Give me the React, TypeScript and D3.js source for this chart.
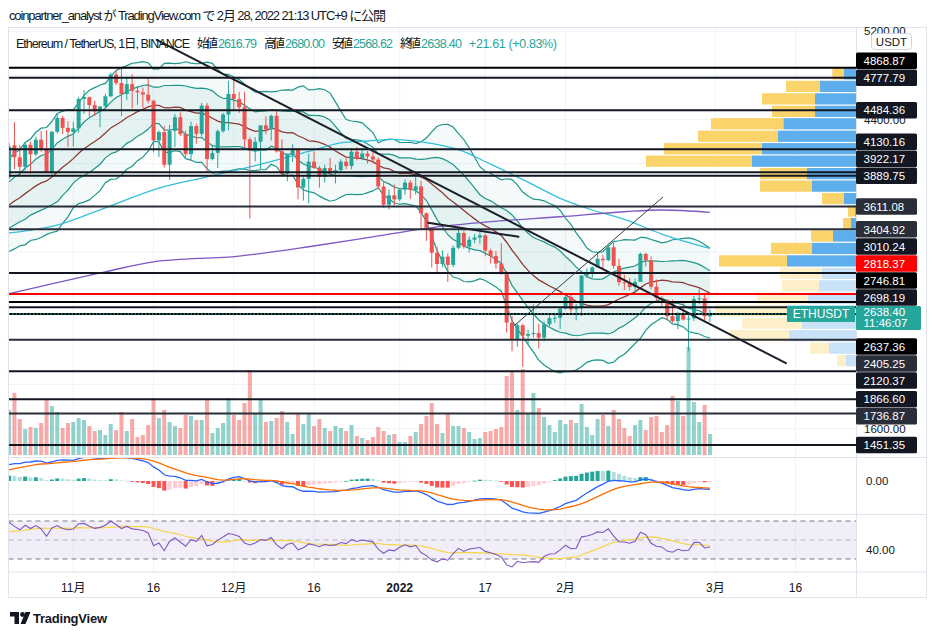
import React from "react";
import * as d3 from "d3";

const W = 936;
const H = 635;
const FONT = "'Liberation Sans', Arial, 'Noto Sans CJK JP', sans-serif";

// ---------- data ----------
const firstCandleDate = "2021-10-20";
// closes before the visible window (Sep 1 - Oct 19, estimated), only used to seed the indicators
const priorCloses = [
  3834, 3787, 3939, 3886, 3952, 3927, 3431, 3497, 3426, 3207, 3265, 3409, 3285, 3427, 3613, 3571, 3397, 3433,
  3330, 2977, 2746, 3078, 3155, 2930, 2925, 3063, 2933, 2806, 2850, 3001,
  3308, 3391, 3418, 3380, 3518, 3580, 3587, 3561, 3575, 3414, 3545, 3493, 3606, 3788, 3866, 3829, 3847, 3747, 3877,
];
const opens = [
  3877, 4167, 4057, 3971, 4171, 4085, 4217, 4131, 3923, 4288, 4414, 4324,
  4288, 4319, 4586, 4603, 4530, 4474, 4518, 4610, 4807, 4730, 4630, 4720, 4660, 4646, 4625, 4570, 4210, 4286, 3990, 4297, 4420, 4267, 4086, 4340, 4270, 4525, 4042, 4097, 4294, 4445,
  4631, 4586, 4511, 4220, 4119, 4198, 4347, 4310, 4433, 4111, 3908, 4085, 4136, 3784, 3862, 4018, 3962, 3880, 3960, 3922, 3941, 4018, 3978, 4108, 4048, 4092, 4065, 4037, 3793, 3628, 3713,
  3676, 3765, 3829, 3761, 3794, 3550, 3418, 3193, 3091, 3157, 3083, 3238, 3372, 3249, 3311, 3330, 3350, 3212, 3164, 3095, 3000, 2560, 2405, 2536, 2441, 2457, 2465, 2424, 2545, 2601, 2604,
  2686, 2792, 2680, 2690, 2986, 3010, 3060, 3138, 3125, 3242, 3074, 2926, 2917, 2882, 2929, 3183, 3123, 2885, 2784, 2764, 2618, 2573, 2640, 2588, 2598, 2772, 2780, 2616.79,
];
const highs = [
  4188, 4375, 4170, 4188, 4197, 4245, 4295, 4304, 4297, 4460, 4432, 4386,
  4380, 4604, 4666, 4606, 4570, 4520, 4633, 4825, 4838, 4868.87, 4778, 4810, 4705, 4690, 4775, 4575, 4300, 4342, 4350, 4450, 4464, 4300, 4380, 4362, 4550, 4550, 4170, 4310, 4460, 4750,
  4778, 4650, 4650, 4240, 4240, 4340, 4428, 4444, 4480, 4220, 4090, 4175, 4136, 3885, 4092, 4112, 3980, 3990, 4050, 3990, 4040, 4060, 4140, 4148, 4140, 4115, 4125, 4057, 3830, 3768, 3813,
  3770, 3856, 3852, 3899, 3845, 3558, 3425, 3245, 3215, 3185, 3260, 3414, 3393, 3340, 3363, 3380, 3366, 3230, 3208, 3280, 3030, 2620, 2550, 2548, 2496, 2724, 2550, 2570, 2645, 2636, 2700,
  2815, 2810, 2730, 2990, 3050, 3071, 3190, 3172, 3260, 3282, 3138, 2993, 2965, 2960, 3195, 3192, 3160, 2950, 2800, 2768, 2767, 2660, 2750, 2650, 2800, 2870, 2820, 2680,
];
const lows = [
  3860, 3950, 3886, 3938, 3908, 4068, 4108, 3918, 3900, 4272, 4268, 4152,
  4155, 4280, 4451, 4425, 4432, 4330, 4500, 4601, 4712, 4430, 4576, 4500, 4533, 4504, 4545, 4100, 4060, 3965, 3853, 4150, 4250, 4057, 4035, 4180, 4245, 3919, 4030, 3960, 4280, 4300,
  4480, 4460, 4150, 3503, 4020, 3950, 4265, 4210, 4100, 3890, 3840, 4015, 3676, 3665, 3640, 3950, 3781, 3830, 3900, 3820, 3915, 3950, 3950, 4030, 4030, 4000, 4000, 3768, 3600, 3585, 3622,
  3660, 3720, 3680, 3720, 3400, 3300, 3060, 3000, 3060, 2928, 3062, 3225, 3230, 3195, 3280, 3275, 3160, 3095, 3050, 2995, 2470, 2300, 2342, 2159, 2365, 2425, 2325, 2390, 2525, 2557, 2501,
  2680, 2650, 2580, 2620, 2964, 2965, 3060, 3040, 3117, 3050, 2894, 2855, 2850, 2832, 2929, 3070, 2860, 2760, 2705, 2580, 2560, 2500, 2578, 2300, 2575, 2725, 2580, 2568.62,
];
const closes = [
  4155, 4057, 3971, 4171, 4085, 4217, 4131, 3923, 4288, 4414, 4324, 4288,
  4319, 4586, 4603, 4530, 4474, 4518, 4610, 4807, 4730, 4630, 4720, 4660, 4646, 4625, 4570, 4210, 4286, 3990, 4297, 4420, 4267, 4086, 4340, 4270, 4525, 4042, 4097, 4294, 4445, 4631,
  4586, 4511, 4220, 4119, 4198, 4347, 4310, 4433, 4111, 3908, 4085, 4136, 3784, 3862, 4018, 3962, 3880, 3960, 3922, 3941, 4018, 3978, 4108, 4048, 4092, 4065, 4037, 3793, 3628, 3713, 3676,
  3765, 3829, 3761, 3794, 3550, 3418, 3193, 3091, 3157, 3083, 3238, 3372, 3249, 3311, 3330, 3350, 3212, 3164, 3095, 3000, 2560, 2405, 2536, 2441, 2457, 2465, 2424, 2545, 2601, 2604, 2686,
  2792, 2680, 2690, 2986, 3010, 3060, 3138, 3125, 3242, 3074, 2926, 2917, 2882, 2929, 3183, 3123, 2885, 2784, 2764, 2618, 2573, 2640, 2588, 2598, 2772, 2780, 2616.79, 2638.4,
];
// thousand ETH
const volumes = [
  450, 620, 360, 260, 280, 270, 320, 550, 490, 430, 270, 320,
  330, 370, 350, 290, 240, 250, 200, 310, 250, 430, 240, 360, 180, 200, 300, 570, 370, 450, 330, 290, 270, 400, 390, 350, 350, 560, 220, 270, 320, 570,
  400, 350, 520, 850, 420, 560, 330, 340, 370, 440, 330, 210, 420, 310, 420, 290, 360, 270, 240, 290, 270, 240, 300, 190, 170, 150, 180, 280, 240, 200, 210,
  130, 130, 190, 230, 310, 390, 520, 310, 220, 410, 290, 290, 270, 230, 160, 170, 230, 240, 260, 280, 790, 830, 450, 860, 410, 620, 470, 380, 300, 230, 350,
  310, 350, 320, 510, 280, 200, 360, 400, 290, 450, 360, 270, 190, 300, 350, 250, 380, 390, 230, 300, 590, 540, 390, 1080, 530, 330, 500, 210,
];

const levelPrices = [4868.87, 4777.79, 4484.36, 4130.16, 3922.17, 3889.75, 3611.08, 3404.92, 3010.24, 2818.37, 2746.81, 2698.19, 2637.36, 2405.25, 2120.37, 1866.6, 1736.87, 1451.35];
const levelTones = ["#000000", "#131722", "#131722", "#131722", "#131722", "#131722", "#2a2e39", "#2a2e39", "#131722", "#ff0000", "#000000", "#131722", "#000000", "#2a2e39", "#131722", "#131722", "#2a2e39", "#131722"];

const cyanDates = ["2021-10-20", "2021-10-29", "2021-11-07", "2021-11-17", "2021-11-26", "2021-12-05", "2021-12-15", "2021-12-21", "2021-12-26", "2021-12-31", "2022-01-05", "2022-01-12", "2022-01-18", "2022-01-25", "2022-01-31", "2022-02-06", "2022-02-12", "2022-02-19", "2022-02-28"];
const cyanValues = [3372, 3443, 3600, 3778, 3880, 3982, 4110, 4187, 4205, 4220, 4197, 4126, 3995, 3832, 3686, 3580, 3495, 3362, 3232];
const purpleDates = ["2021-10-20", "2021-11-07", "2021-11-16", "2021-12-02", "2021-12-15", "2021-12-26", "2022-01-06", "2022-01-18", "2022-01-31", "2022-02-12", "2022-02-19", "2022-02-28"];
const purpleValues = [2822, 3020, 3111, 3163, 3247, 3329, 3414, 3474, 3519, 3564, 3580, 3559];

const trendStartDates = ["2021-11-16T14:00:00Z", "2022-01-06T08:00:00Z", "2022-01-22T13:00:00Z"];
const trendStartPrices = [5120, 3464, 2538];
const trendEndDates = ["2022-03-14T05:00:00Z", "2022-01-23T05:00:00Z", "2022-02-19T04:00:00Z"];
const trendEndPrices = [2193, 3338, 3695];

// visible range volume profile, 24 rows from top (thousand ETH)
const vpUp = [240, 720, 820, 820, 1454, 1560, 1880, 2080, 980, 880, 240, 20, 100, 460, 880, 1380, 680, 740, 960, 1380, 1080, 1340, 540, 200];
const vpDown = [234, 680, 1060, 860, 1446, 1600, 1960, 2120, 940, 1040, 440, 140, 160, 440, 820, 1360, 840, 740, 1020, 1440, 1200, 1180, 380, 180];
const valueAreaLow = 3062;

const priceTicks = [1600, 2000, 2400, 2800, 3200, 3600, 4000, 4400, 4800, 5200];
const timeTickDates = ["2021-11-01", "2021-11-16", "2021-12-01", "2021-12-16", "2022-01-01", "2022-01-17", "2022-02-01", "2022-03-01", "2022-03-16"];
const timeTickLabels = ["11月", "16", "12月", "16", "2022", "17", "2月", "3月", "16"];

// ---------- indicator helpers ----------
function smaArr(a: number[], n: number): number[] {
  return a.map((_, i) => (i < n - 1 ? NaN : (d3.mean(a.slice(i - n + 1, i + 1)) as number)));
}
function stdArr(a: number[], n: number): number[] {
  return a.map((_, i) => {
    if (i < n - 1) return NaN;
    const s = a.slice(i - n + 1, i + 1);
    const m = d3.mean(s) as number;
    return Math.sqrt(d3.mean(s, (v) => (v - m) * (v - m)) as number);
  });
}
function emaArr(a: number[], n: number): number[] {
  const k = 2 / (n + 1);
  let e = a[0];
  return a.map((v, i) => {
    e = i === 0 ? v : v * k + e * (1 - k);
    return e;
  });
}
function rsiArr(a: number[], n: number): number[] {
  const out: number[] = a.map(() => NaN);
  let ag = 0, al = 0;
  for (let i = 1; i < a.length; i++) {
    const ch = a[i] - a[i - 1];
    const g = Math.max(ch, 0), l = Math.max(-ch, 0);
    if (i <= n) {
      ag += g / n; al += l / n;
      if (i === n) out[i] = 100 - 100 / (1 + ag / al);
    } else {
      ag = (ag * (n - 1) + g) / n;
      al = (al * (n - 1) + l) / n;
      out[i] = 100 - 100 / (1 + ag / al);
    }
  }
  return out;
}

export default function App() {
  const DAY = 86400000;
  const t0 = Date.parse(firstCandleDate + "T00:00:00Z");
  const dates = closes.map((_, i) => new Date(t0 + i * DAY));
  const n = closes.length;

  const x = d3.scaleTime()
    .domain([new Date(Date.UTC(2021, 10, 1)), new Date(Date.UTC(2022, 2, 1))])
    .range([73.3, 715.3]);
  const y = d3.scaleLinear().domain([4868.87, 1451.35]).range([67.7, 445]);
  const yVol = d3.scaleLinear().domain([0, 1100]).range([455, 345]);
  const yMacd = d3.scaleLinear().domain([0, 100]).range([481, 471]);
  const yRsi = d3.scaleLinear().domain([30, 70]).range([559, 521]);

  // indicators
  const all = [...priorCloses, ...closes];
  const off = priorCloses.length;
  const basis = smaArr(all, 20).slice(off);
  const sd = stdArr(all, 20).slice(off);
  const ema12 = emaArr(all, 12);
  const ema26 = emaArr(all, 26);
  const macdAll = all.map((_, i) => ema12[i] - ema26[i]);
  const sigAll = emaArr(macdAll, 9);
  const macd = macdAll.slice(off);
  const sig = sigAll.slice(off);
  const histAll = macdAll.map((m, i) => m - sigAll[i]);
  const hist = histAll.slice(off);
  const rsiFull = rsiArr(all, 14);
  const rsiMaFull = rsiFull.map((_, i) => {
    const s = rsiFull.slice(Math.max(0, i - 13), i + 1);
    return s.length < 14 || s.some((v) => isNaN(v)) ? NaN : (d3.mean(s) as number);
  });
  const rsi = rsiFull.slice(off);
  const rsiMa = rsiMaFull.slice(off);

  const idx = d3.range(n);
  const lineOf = (vals: number[], ys: (v: number) => number) =>
    d3.line<number>().x((i) => x(dates[i])).y((i) => ys(vals[i]))(idx) || "";
  const bandPts = (k: number) => idx.map((i) => basis[i] + k * sd[i]);
  const up2 = bandPts(2), lo2 = bandPts(-2), up1 = bandPts(1), lo1 = bandPts(-1);
  const areaOf = (a: number[], b: number[]) =>
    d3.area<number>().x((i) => x(dates[i])).y0((i) => y(a[i])).y1((i) => y(b[i]))(idx) || "";

  const tracedLine = (ds: string[], vs: number[]) =>
    d3.line<number>()
      .x((i) => x(new Date(ds[i] + "T00:00:00Z")))
      .y((i) => y(vs[i]))
      .curve(d3.curveMonotoneX)(d3.range(ds.length)) || "";

  // price labels layout
  const lastClose = closes[n - 1];
  const curY = y(lastClose);
  const curTop = curY - 8;
  const labelH = 17;
  const centers: number[] = levelPrices.map((p) => y(p));
  const aboveIdx = d3.range(levelPrices.length).filter((i) => levelPrices[i] > lastClose).sort((a, b) => levelPrices[a] - levelPrices[b]);
  let lim = curTop;
  for (const i of aboveIdx) {
    const c = Math.min(y(levelPrices[i]), lim - labelH / 2);
    centers[i] = c;
    lim = c - labelH / 2;
  }
  const belowIdx = d3.range(levelPrices.length).filter((i) => levelPrices[i] <= lastClose).sort((a, b) => levelPrices[b] - levelPrices[a]);
  lim = curTop + 32;
  for (const i of belowIdx) {
    const c = Math.max(y(levelPrices[i]), lim + labelH / 2);
    centers[i] = c;
    lim = c + labelH / 2;
  }
  // tick labels mostly covered by a level label are not drawn
  const boxes: [number, number][] = centers.map((c) => [c - 8.25, c + 8.25]);
  boxes.push([curTop, curTop + 24]);
  const visibleTicks = priceTicks.filter((p) => {
    const t0y = y(p) - 4.5, t1y = y(p) + 4.5;
    const covered = d3.max(boxes, (b) => Math.max(0, Math.min(t1y, b[1]) - Math.max(t0y, b[0]))) as number;
    return covered / 9 < 0.6;
  });

  // volume profile rows
  const vpHigh = d3.max(highs.slice(1)) as number;
  const vpLow = d3.min(lows.slice(1)) as number;
  const rowStep = (vpHigh - vpLow) / vpUp.length;
  const vpW = d3.scaleLinear().domain([0, d3.max(vpUp.map((u, i) => u + vpDown[i])) as number]).range([0, 210]);

  const AX = 856;
  const bodyW = 4;
  const upC = "#26a69a", dnC = "#ef5350";
  const prevClose = closes[n - 2];
  const chg = lastClose - prevClose;

  const hdrSeg = (label: string, lx: number, lw: number, val: string, vx: number, vw: number) => (
    <g key={label}>
      <text x={lx} y={47.5} fontSize={12.5} fill="#131722" textLength={lw}>{label}</text>
      <text x={vx} y={47.5} fontSize={12.5} fill={upC} textLength={vw}>{val}</text>
    </g>
  );

  return (
    <div style={{ position: "fixed", left: 0, top: 0, width: W, height: H, background: "#fff" }}>
      <svg width={W} height={H} viewBox={`0 0 ${W} ${H}`} style={{ display: "block", fontFamily: FONT }}>
        <defs>
          <clipPath id="mainClip"><rect x={8.5} y={27.5} width={AX - 8.5} height={430} /></clipPath>
          <clipPath id="macdClip"><rect x={8.5} y={458} width={AX - 8.5} height={56} /></clipPath>
          <clipPath id="rsiClip"><rect x={8.5} y={515} width={AX - 8.5} height={57} /></clipPath>
        </defs>
        <rect x={0} y={0} width={W} height={H} fill="#fff" />
        {/* title */}
        <text x={9} y={20} fontSize={13} fill="#131722" textLength={377}>
          coinpartner_analyst が TradingView.com で 2月 28, 2022 21:13 UTC+9 に公開
        </text>

        {/* grid */}
        {timeTickDates.map((d, i) => (
          <line key={"vg" + i} x1={x(new Date(d + "T00:00:00Z"))} x2={x(new Date(d + "T00:00:00Z"))} y1={27.5} y2={572} stroke="#f0f3fa" strokeWidth={1} />
        ))}
        {priceTicks.map((p) => (
          <line key={"hg" + p} x1={8.5} x2={AX} y1={y(p)} y2={y(p)} stroke="#f0f3fa" strokeWidth={1} />
        ))}

        <g clipPath="url(#mainClip)">
          {/* bollinger fills */}
          <path d={areaOf(up2, lo2)} fill="rgba(38,166,154,0.05)" />
          <path d={areaOf(up1, lo1)} fill="rgba(38,166,154,0.075)" />

          {/* volume profile */}
          {vpUp.map((u, i) => {
            const top = y(vpHigh - i * rowStep) + 0.6;
            const bot = y(vpHigh - (i + 1) * rowStep) - 0.6;
            const inVA = vpHigh - (i + 1) * rowStep >= valueAreaLow - 1;
            const uw = vpW(u), dw = vpW(vpDown[i]);
            return (
              <g key={"vp" + i}>
                <rect x={AX - uw} y={top} width={uw} height={bot - top} fill={inVA ? "#5eaeec" : "#c8e3f7"} />
                <rect x={AX - uw - dw} y={top} width={dw} height={bot - top} fill={inVA ? "#fbd36b" : "#fdf0c8"} />
              </g>
            );
          })}

          {/* volume */}
          {idx.map((i) => (
            <rect key={"v" + i} x={x(dates[i]) - bodyW / 2} y={yVol(volumes[i])} width={bodyW} height={455 - yVol(volumes[i])}
              fill={closes[i] >= opens[i] ? "rgba(38,166,154,0.5)" : "rgba(239,83,80,0.5)"} />
          ))}

          {/* bollinger lines */}
          {[up2, up1, lo1, lo2].map((b, k) => (
            <path key={"bb" + k} d={lineOf(b, y)} fill="none" stroke="#1f968b" strokeWidth={1.2} />
          ))}
          <path d={lineOf(basis, y)} fill="none" stroke="#8e3b35" strokeWidth={1.3} />
          <path d={tracedLine(cyanDates, cyanValues)} fill="none" stroke="#35bfda" strokeWidth={1.3} />
          <path d={tracedLine(purpleDates, purpleValues)} fill="none" stroke="#7e57c2" strokeWidth={1.3} />

          {/* candles */}
          {idx.map((i) => {
            const c = closes[i] >= opens[i] ? upC : dnC;
            const cx = x(dates[i]);
            const yt = y(Math.max(opens[i], closes[i]));
            const yb = y(Math.min(opens[i], closes[i]));
            return (
              <g key={"c" + i}>
                <line x1={cx} x2={cx} y1={y(highs[i])} y2={y(lows[i])} stroke={c} strokeWidth={1} />
                <rect x={cx - bodyW / 2} y={yt} width={bodyW} height={Math.max(1, yb - yt)} fill={c} />
              </g>
            );
          })}

          {/* horizontal levels */}
          {levelPrices.map((p, i) => (
            <line key={"lv" + i} x1={8.5} x2={AX} y1={y(p)} y2={y(p)} stroke={levelTones[i]} strokeWidth={2} />
          ))}
          <line x1={8.5} x2={AX} y1={curY} y2={curY} stroke={upC} strokeWidth={1.2} strokeDasharray="1.5,2" />

          {/* trend lines */}
          {trendStartDates.map((d, i) => (
            <line key={"tl" + i}
              x1={x(new Date(d))} y1={y(trendStartPrices[i])}
              x2={x(new Date(trendEndDates[i]))} y2={y(trendEndPrices[i])}
              stroke={i === 2 ? "#3a3d48" : "#1c1f2a"} strokeWidth={i === 2 ? 1 : 2} strokeLinecap="round" />
          ))}

          {/* symbol label */}
          <rect x={787} y={curTop} width={68} height={16} fill={upC} />
          <text x={821} y={curTop + 12} fontSize={12} fill="#fff" textAnchor="middle">ETHUSDT</text>
        </g>

        {/* header line 2 */}
        <text x={16} y={47.5} fontSize={12.5} fill="#131722" textLength={174}>Ethereum / TetherUS, 1日, BINANCE</text>
        {hdrSeg("始値", 197, 21, opens[n - 1].toFixed(2), 218, 39)}
        {hdrSeg("高値", 264, 21, highs[n - 1].toFixed(2), 285, 40)}
        {hdrSeg("安値", 332, 21, lows[n - 1].toFixed(2), 353, 40)}
        {hdrSeg("終値", 400, 21, lastClose.toFixed(2), 421, 41)}
        <text x={469} y={47.5} fontSize={12.5} fill={upC} textLength={88}>
          {`+${chg.toFixed(2)} (+${((chg / prevClose) * 100).toFixed(2)}%)`}
        </text>

        {/* MACD */}
        <g clipPath="url(#macdClip)">
          {idx.map((i) => {
            const h = hist[i];
            const ph = histAll[off + i - 1];
            const col = h >= 0 ? (h > ph ? "#26a69a" : "#b2dfdb") : (h > ph ? "#ffcdd2" : "#ff5252");
            const y0 = yMacd(0), y1 = yMacd(h);
            return <rect key={"h" + i} x={x(dates[i]) - 2} y={Math.min(y0, y1)} width={4} height={Math.max(0.8, Math.abs(y1 - y0))} fill={col} />;
          })}
          <path d={lineOf(macd, yMacd)} fill="none" stroke="#2962ff" strokeWidth={1.3} />
          <path d={lineOf(sig, yMacd)} fill="none" stroke="#ff6d00" strokeWidth={1.3} />
        </g>

        {/* RSI */}
        <rect x={8.5} y={yRsi(70)} width={AX - 8.5} height={yRsi(30) - yRsi(70)} fill="rgba(126,87,194,0.1)" />
        {[70, 50, 30].map((v) => (
          <line key={"rl" + v} x1={8.5} x2={AX} y1={yRsi(v)} y2={yRsi(v)} stroke={v === 50 ? "#b2b5be" : "#787b86"} strokeWidth={1} strokeDasharray="5,4" />
        ))}
        <g clipPath="url(#rsiClip)">
          <path d={lineOf(rsiMa, yRsi)} fill="none" stroke="#f5d547" strokeWidth={1.2} />
          <path d={lineOf(rsi, yRsi)} fill="none" stroke="#7e57c2" strokeWidth={1.1} />
        </g>

        {/* pane separators and frame */}
        <line x1={8.5} x2={926.5} y1={457.5} y2={457.5} stroke="#e0e3eb" />
        <line x1={8.5} x2={926.5} y1={514.5} y2={514.5} stroke="#e0e3eb" />
        <line x1={8.5} x2={926.5} y1={572} y2={572} stroke="#e0e3eb" />
        <line x1={AX + 0.5} x2={AX + 0.5} y1={27.5} y2={597.5} stroke="#e0e3eb" />
        <rect x={8.5} y={27.5} width={918} height={570} fill="none" stroke="#e0e3eb" />

        {/* time axis */}
        {timeTickDates.map((d, i) => (
          <text key={"tt" + i} x={x(new Date(d + "T00:00:00Z"))} y={591.5} fontSize={12} fill="#131722" textAnchor="middle"
            fontWeight={timeTickLabels[i] === "2022" ? 700 : 400}>{timeTickLabels[i]}</text>
        ))}

        {/* price axis ticks */}
        {visibleTicks.map((p) => (
          <text key={"pt" + p} x={864} y={y(p) + 4.2} fontSize={11.5} fill="#131722">{p.toFixed(2)}</text>
        ))}
        <rect x={871.5} y={33.5} width={40} height={16} rx={3} fill="#fff" stroke="#d1d4dc" />
        <text x={891.5} y={45.5} fontSize={11.5} fill="#131722" textAnchor="middle">USDT</text>

        {/* level labels */}
        {levelPrices.map((p, i) => (
          <g key={"ll" + i}>
            <rect x={AX} y={centers[i] - 8.25} width={61} height={16.5} rx={1.5} fill={levelTones[i]} />
            <text x={863.5} y={centers[i] + 4.2} fontSize={11.5} fill="#fff">{p.toFixed(2)}</text>
          </g>
        ))}
        <rect x={AX} y={curTop} width={65} height={24} rx={1.5} fill={upC} />
        <text x={863.5} y={curTop + 10.5} fontSize={11.5} fill="#fff">{lastClose.toFixed(2)}</text>
        <text x={863.5} y={curTop + 21.5} fontSize={11.5} fill="#fff">11:46:07</text>

        {/* indicator axis values */}
        <text x={866} y={yMacd(0) + 4.2} fontSize={11.5} fill="#131722">0.00</text>
        <text x={866} y={yRsi(40) + 4.2} fontSize={11.5} fill="#131722">40.00</text>

        {/* TradingView logo */}
        <g fill="#131722">
          <path d="M10 612 h9 v12 h-4.5 v-7.5 h-4.5 z" />
          <circle cx={22.5} cy={614.5} r={2.4} />
          <path d="M25.5 612 h5 l-5 12 h-5 z" />
        </g>
        <text x={33} y={622.5} fontSize={13} fontWeight={700} fill="#131722" textLength={74}>TradingView</text>
      </svg>
    </div>
  );
}
